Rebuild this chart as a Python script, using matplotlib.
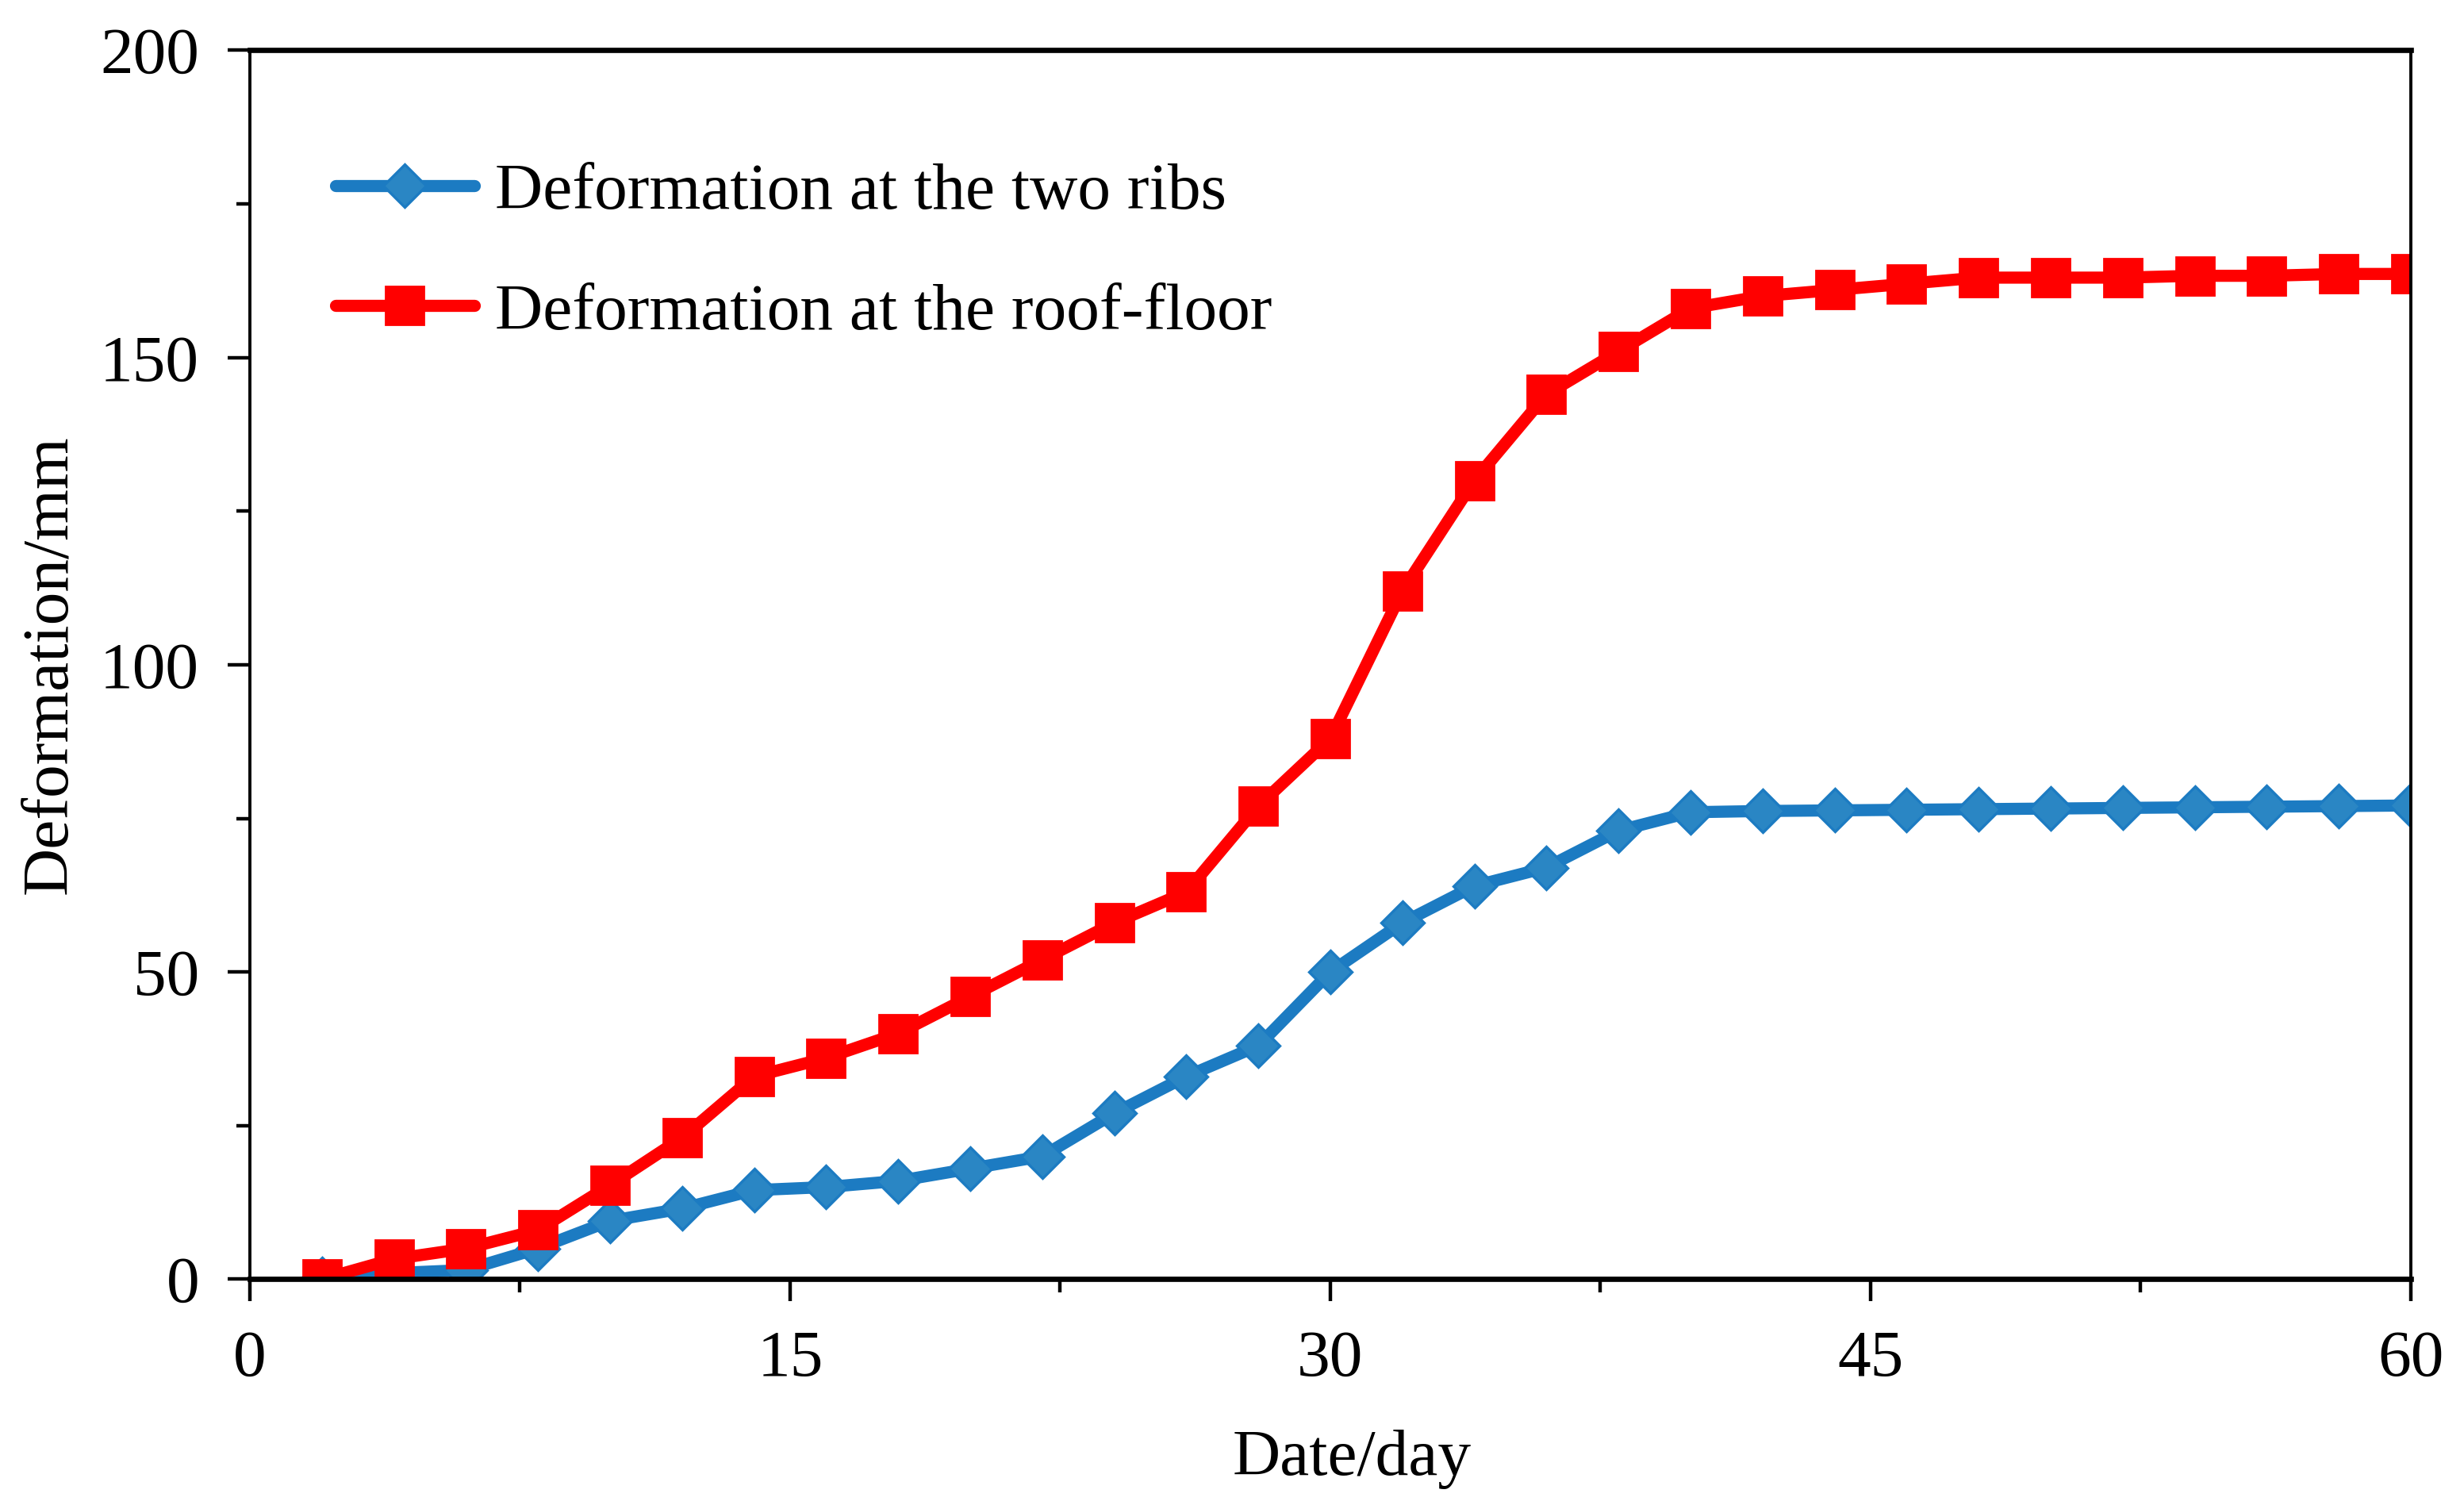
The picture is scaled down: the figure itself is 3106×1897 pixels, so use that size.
import matplotlib
matplotlib.use("Agg")
import matplotlib.pyplot as plt
from matplotlib.ticker import MultipleLocator

plt.rcParams['font.family'] = ['Liberation Serif', 'DejaVu Serif']

days = [2, 4, 6, 8, 10, 12, 14, 16, 18, 20, 22, 24, 26, 28, 30,
        32, 34, 36, 38, 40, 42, 44, 46, 48, 50, 52, 54, 56, 58, 60]
ribs = [0, 1, 1.5, 5, 9.5, 11.5, 14.5, 15, 16, 18, 20, 27, 33, 38, 50,
        58, 64, 67, 73, 76, 76.2, 76.3, 76.4, 76.5, 76.6, 76.7, 76.8, 76.9, 77, 77.1]
roof = [0, 3.3, 5, 8, 15.3, 23, 33, 36, 40, 46, 52, 58, 63, 77, 88,
        112, 130, 144, 151, 158, 160, 161, 162, 163, 163, 163, 163.3, 163.3, 163.6, 163.6]

label_ribs = "Deformation at the two ribs"
label_roof = "Deformation at the roof-floor"

fig = plt.figure(figsize=(15.53, 9.485), dpi=200)
ax = fig.add_axes([0.1014, 0.150, 0.877, 0.8166])

ax.plot(days, ribs, color='#1c7bc2', lw=5.5, marker='D', ms=13.5,
        mfc='#2a86c4', mec='#1c7bc2', mew=1.2, label=label_ribs,
        solid_joinstyle='round', solid_capstyle='round')
ax.plot(days, roof, color='#ff0000', lw=5.5, marker='s', ms=17,
        mfc='#ff0000', mec='#ff0000', label=label_roof,
        solid_joinstyle='round', solid_capstyle='round')

ax.set_xlim(0, 60)
ax.set_ylim(0, 200)
ax.xaxis.set_major_locator(MultipleLocator(15))
ax.xaxis.set_minor_locator(MultipleLocator(7.5))
ax.yaxis.set_major_locator(MultipleLocator(50))
ax.yaxis.set_minor_locator(MultipleLocator(25))
ax.tick_params(which='major', direction='out', length=10, width=1.6,
               labelsize=30, pad=13)
ax.tick_params(which='minor', direction='out', length=6, width=1.6)

for side in ['top', 'bottom']:
    ax.spines[side].set_linewidth(2.4)
for side in ['left', 'right']:
    ax.spines[side].set_linewidth(1.4)

ax.set_xlabel("Date/day", fontsize=30, labelpad=18)
ax.xaxis.label.set_x(0.51)
ax.set_ylabel("Deformation/mm", fontsize=30, labelpad=9)

ax.legend(loc='upper left', bbox_to_anchor=(0.012, 0.957), frameon=False,
          fontsize=30, handlelength=2.1, handletextpad=0.32, labelspacing=0.9)

fig.savefig("out.png", dpi=200)
